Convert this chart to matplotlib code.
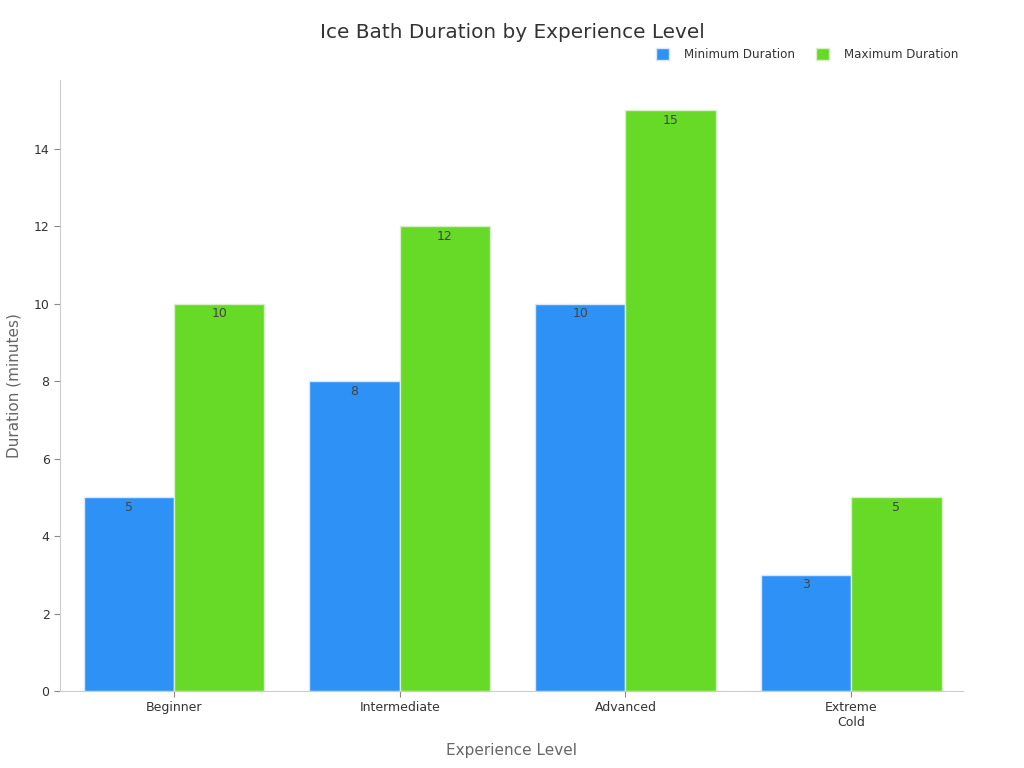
import numpy as np
import matplotlib
matplotlib.use("Agg")
import matplotlib.pyplot as plt

levels = ["Beginner", "Intermediate", "Advanced", "Extreme\nCold"]
min_duration = [5, 8, 10, 3]
max_duration = [10, 12, 15, 5]

blue = "#2E91F5"
green = "#66DA26"

fig = plt.figure(figsize=(10.24, 7.68), dpi=100)
ax = fig.add_axes([0.0586, 0.1003, 0.8818, 0.7957])

x = np.arange(len(levels))
w = 0.4
b1 = ax.bar(x - w / 2, min_duration, w, color=blue, edgecolor="#d8e8f8", linewidth=1, label="Minimum Duration")
b2 = ax.bar(x + w / 2, max_duration, w, color=green, edgecolor="#d8f0c8", linewidth=1, label="Maximum Duration")

# value labels just inside the bar tops
for bars in (b1, b2):
    for r in bars:
        ax.annotate(f"{r.get_height():g}", (r.get_x() + r.get_width() / 2, r.get_height()),
                    xytext=(0, -2.5), textcoords="offset points", ha="center", va="top",
                    fontsize=9, color="#444444")

ax.set_xlim(-0.505, 3.495)
ax.set_ylim(0, 15.78)
ax.set_xticks(x)
ax.set_xticklabels(levels, fontsize=9, color="#333333")
ax.set_yticks(range(0, 16, 2))
ax.tick_params(axis="y", labelsize=9, colors="#333333", length=4, color="#888888")
ax.tick_params(axis="x", length=4, color="#888888")

for s in ("top", "right"):
    ax.spines[s].set_visible(False)
for s in ("left", "bottom"):
    ax.spines[s].set_color("#cccccc")

ax.set_xlabel("Experience Level", fontsize=11, color="#666666", labelpad=10)
ax.set_ylabel("Duration (minutes)", fontsize=11, color="#666666", labelpad=9)
fig.suptitle("Ice Bath Duration by Experience Level", fontsize=14.4, color="#333333", x=0.5, y=0.97)

leg = ax.legend(loc="upper right", bbox_to_anchor=(1.0065, 1.07), ncol=2, frameon=False, fontsize=8.6,
                handlelength=1.15, handleheight=1.15, columnspacing=1.75, handletextpad=1.2)
for t in leg.get_texts():
    t.set_color("#333333")

fig.savefig("out.png", dpi=100)
